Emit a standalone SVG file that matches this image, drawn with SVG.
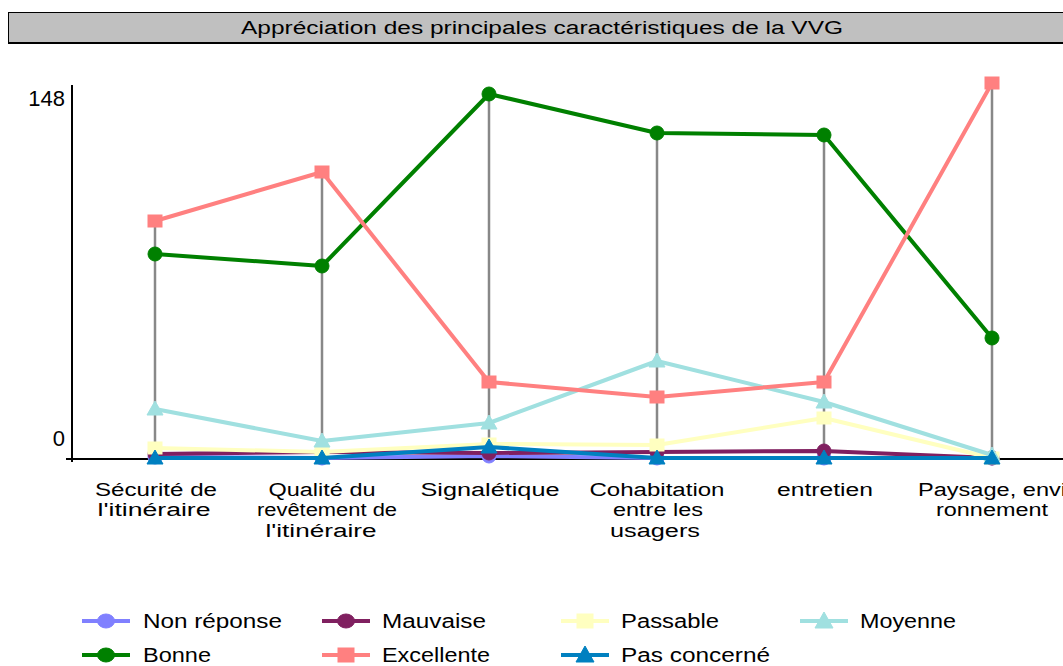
<svg xmlns="http://www.w3.org/2000/svg" width="1063" height="666" viewBox="0 0 1063 666">
<defs>
<style>
text{font-family:"Liberation Sans",Arial,sans-serif;fill:#000}
.t{font-size:18px}
.c{font-size:18px;text-anchor:middle}
.l{font-size:20px}
.ax{font-size:22px;text-anchor:end}
.drop{stroke:#888;stroke-width:2.5}
.s{fill:none;stroke-width:4;stroke-linejoin:round}
</style>
<circle id="mc" r="7"/>
<ellipse id="me" rx="8.5" ry="7"/>
<rect id="ms" x="-7" y="-6" width="14" height="12"/>
<polygon id="mt" points="0,-8 8,6 -8,6"/>
</defs>
<rect width="1063" height="666" fill="#fff"/>
<g id="title">
<rect x="8.5" y="12.5" width="1060" height="30" fill="#c0c0c0" stroke="#000" stroke-width="1"/>
<line x1="8" y1="43" x2="1063" y2="43" stroke="#000" stroke-width="2"/>
<text x="542" y="34" class="t" text-anchor="middle" textLength="602" lengthAdjust="spacingAndGlyphs">Appréciation des principales caractéristiques de la VVG</text>
</g>
<g id="axes">
<line x1="72" y1="85" x2="72" y2="462" stroke="#000" stroke-width="2"/>
<line x1="66" y1="459" x2="1063" y2="459" stroke="#000" stroke-width="2"/>
<text x="65" y="106" class="ax">148</text>
<text x="65" y="446" class="ax">0</text>
</g>
<g id="connectors">
<g class="drop">
<line x1="155" y1="221" x2="155" y2="458"/>
<line x1="322" y1="172" x2="322" y2="458"/>
<line x1="489" y1="94" x2="489" y2="458"/>
<line x1="657" y1="133" x2="657" y2="458"/>
<line x1="824" y1="135" x2="824" y2="458"/>
<line x1="992" y1="83" x2="992" y2="458"/>
</g>
<g id="s-nonreponse" stroke="#8080ff" fill="#8080ff">
<polyline class="s" points="155,457 322,458 489,456 657,458 824,458 992,458"/>
<use href="#mc" x="155" y="457"/><use href="#mc" x="322" y="458"/><use href="#mc" x="489" y="456"/><use href="#mc" x="657" y="458"/><use href="#mc" x="824" y="458"/><use href="#mc" x="992" y="458"/>
</g>
<g id="s-mauvaise" stroke="#802060" fill="#802060">
<polyline class="s" points="155,454 322,452 489,453 657,452 824,451 992,458"/>
<use href="#mc" x="155" y="454"/><use href="#mc" x="322" y="452"/><use href="#mc" x="489" y="453"/><use href="#mc" x="657" y="452"/><use href="#mc" x="824" y="451"/><use href="#mc" x="992" y="458"/>
</g>
<g id="s-passable" stroke="#ffffc0" fill="#ffffc0">
<polyline class="s" points="155,448 322,452 489,444 657,445 824,418 992,458"/>
<use href="#ms" x="155" y="448"/><use href="#ms" x="322" y="452"/><use href="#ms" x="489" y="444"/><use href="#ms" x="657" y="445"/><use href="#ms" x="824" y="418"/><use href="#ms" x="992" y="458"/>
</g>
<g id="s-moyenne" stroke="#a0e0e0" fill="#a0e0e0">
<polyline class="s" points="155,409 322,441 489,423 657,361 824,402 992,455"/>
<use href="#mt" x="155" y="409"/><use href="#mt" x="322" y="441"/><use href="#mt" x="489" y="423"/><use href="#mt" x="657" y="361"/><use href="#mt" x="824" y="402"/><use href="#mt" x="992" y="455"/>
</g>
<g id="s-bonne" stroke="#008000" fill="#008000">
<polyline class="s" points="155,254 322,266 489,94 657,133 824,135 992,338"/>
<use href="#mc" x="155" y="254"/><use href="#mc" x="322" y="266"/><use href="#mc" x="489" y="94"/><use href="#mc" x="657" y="133"/><use href="#mc" x="824" y="135"/><use href="#mc" x="992" y="338"/>
</g>
<g id="s-excellente" stroke="#ff8080" fill="#ff8080">
<polyline class="s" points="155,221 322,172 489,382 657,397 824,382 992,83"/>
<use href="#ms" x="155" y="221"/><use href="#ms" x="322" y="172"/><use href="#ms" x="489" y="382"/><use href="#ms" x="657" y="397"/><use href="#ms" x="824" y="382"/><use href="#ms" x="992" y="83"/>
</g>
<g id="s-pasconcerne" stroke="#0080c0" fill="#0080c0">
<polyline class="s" points="155,458 322,458 489,447 657,458 824,458 992,458"/>
<use href="#mt" x="155" y="458"/><use href="#mt" x="322" y="458"/><use href="#mt" x="489" y="447"/><use href="#mt" x="657" y="458"/><use href="#mt" x="824" y="458"/><use href="#mt" x="992" y="458"/>
</g>
</g>
<g id="categories">
<text class="c" x="156" y="496" textLength="122" lengthAdjust="spacingAndGlyphs">Sécurité de</text>
<text class="c" x="154" y="516" textLength="113" lengthAdjust="spacingAndGlyphs">l'itinéraire</text>
<text class="c" x="322" y="496" textLength="107" lengthAdjust="spacingAndGlyphs">Qualité du</text>
<text class="c" x="327" y="516" textLength="140" lengthAdjust="spacingAndGlyphs">revêtement de</text>
<text class="c" x="321" y="537" textLength="111" lengthAdjust="spacingAndGlyphs">l'itinéraire</text>
<text class="c" x="490" y="496" textLength="139" lengthAdjust="spacingAndGlyphs">Signalétique</text>
<text class="c" x="657" y="496" textLength="135" lengthAdjust="spacingAndGlyphs">Cohabitation</text>
<text class="c" x="658" y="516" textLength="90" lengthAdjust="spacingAndGlyphs">entre les</text>
<text class="c" x="655" y="537" textLength="90" lengthAdjust="spacingAndGlyphs">usagers</text>
<text class="c" x="825" y="496" textLength="96" lengthAdjust="spacingAndGlyphs">entretien</text>
<text class="t" x="918" y="496" textLength="148" lengthAdjust="spacingAndGlyphs">Paysage, envi</text>
<text class="c" x="992" y="516" textLength="112" lengthAdjust="spacingAndGlyphs">ronnement</text>
</g>
<g id="legend">
<g id="lg-nonreponse" stroke="#8080ff" fill="#8080ff"><line x1="82" y1="621" x2="130" y2="621" stroke-width="4"/><use href="#me" x="106" y="621"/></g>
<text class="l" x="143" y="628" textLength="139" lengthAdjust="spacingAndGlyphs">Non réponse</text>
<g id="lg-mauvaise" stroke="#802060" fill="#802060"><line x1="322" y1="621" x2="370" y2="621" stroke-width="4"/><use href="#me" x="346" y="621"/></g>
<text class="l" x="382" y="628" textLength="104" lengthAdjust="spacingAndGlyphs">Mauvaise</text>
<g id="lg-passable" stroke="#ffffc0" fill="#ffffc0"><line x1="561" y1="621" x2="609" y2="621" stroke-width="4"/><rect x="577" y="614" width="16" height="14"/></g>
<text class="l" x="621" y="628" textLength="98" lengthAdjust="spacingAndGlyphs">Passable</text>
<g id="lg-moyenne" stroke="#a0e0e0" fill="#a0e0e0"><line x1="800" y1="621" x2="848" y2="621" stroke-width="4"/><polygon points="824,612 833,628 815,628"/></g>
<text class="l" x="860" y="628" textLength="96" lengthAdjust="spacingAndGlyphs">Moyenne</text>
<g id="lg-bonne" stroke="#008000" fill="#008000"><line x1="82" y1="655" x2="130" y2="655" stroke-width="4"/><use href="#me" x="106" y="655"/></g>
<text class="l" x="143" y="662" textLength="68" lengthAdjust="spacingAndGlyphs">Bonne</text>
<g id="lg-excellente" stroke="#ff8080" fill="#ff8080"><line x1="322" y1="655" x2="370" y2="655" stroke-width="4"/><rect x="338" y="648" width="16" height="14"/></g>
<text class="l" x="382" y="662" textLength="108" lengthAdjust="spacingAndGlyphs">Excellente</text>
<g id="lg-pasconcerne" stroke="#0080c0" fill="#0080c0"><line x1="561" y1="655" x2="609" y2="655" stroke-width="4"/><polygon points="585,646 594,662 576,662"/></g>
<text class="l" x="621" y="662" textLength="149" lengthAdjust="spacingAndGlyphs">Pas concerné</text>
</g>
</svg>
